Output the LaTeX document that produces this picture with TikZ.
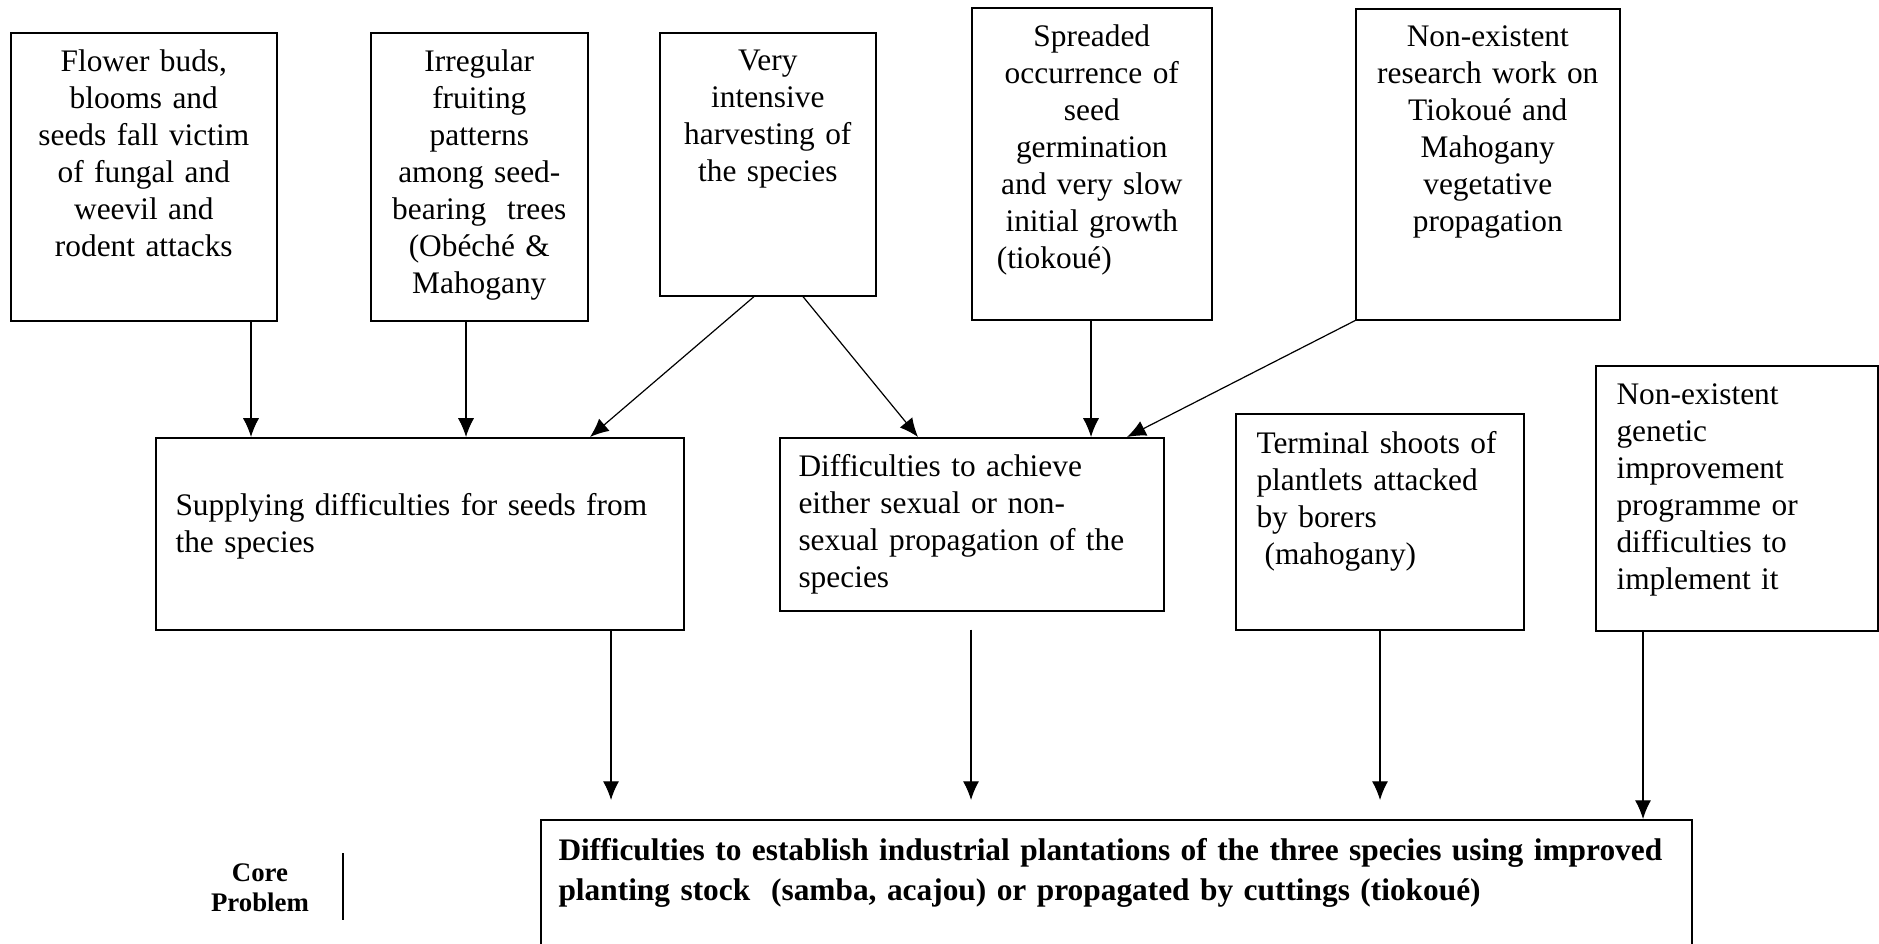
\documentclass[tikz,border=0pt]{standalone}
\usepackage{fontspec}
\setmainfont{Liberation Serif}
\usetikzlibrary{arrows.meta}
\newcommand{\pxu}{0.373pt}
\tikzset{
  box/.style={draw, line width=0.6pt, anchor=north west, inner sep=0pt},
  txt/.style={font=\fontsize{11.7pt}{13.8pt}\selectfont, inner sep=0pt},
  ctxt/.style={txt, align=center, anchor=north},
  ltxt/.style={txt, align=left, anchor=north west},
  arr/.style={line width=0.45pt, -{Latex[length=7pt,width=6pt]}}
}
\begin{document}
\begin{tikzpicture}[x=\pxu, y=-\pxu]
  \useasboundingbox (0,0) rectangle (1879,943);
  % top row of causes
  \node[box, minimum width=266*\pxu, minimum height=288*\pxu] (flower) at (10,32) {};
  \node[box, minimum width=217*\pxu, minimum height=288*\pxu] (fruit) at (370,32) {};
  \node[box, minimum width=216*\pxu, minimum height=263*\pxu] (harvest) at (659,32) {};
  \node[box, minimum width=240*\pxu, minimum height=312*\pxu] (germ) at (971,7) {};
  \node[box, minimum width=264*\pxu, minimum height=311*\pxu] (research) at (1355,8) {};
  \node[ctxt, text width=246*\pxu] (flowertxt) at ([yshift=-17*\pxu]flower.north)
    {Flower buds,\\ blooms and\\ seeds fall victim\\ of fungal and\\ weevil and\\ rodent attacks};
  \node[ctxt, text width=200*\pxu] (fruittxt) at ([yshift=-17*\pxu]fruit.north)
    {Irregular\\ fruiting\\ patterns\\ among seed-\\ bearing~ trees\\ (Obéché \&\\ Mahogany};
  \node[ctxt, text width=200*\pxu] (harvesttxt) at ([yshift=-17*\pxu]harvest.north)
    {Very\\ intensive\\ harvesting of\\ the species};
  \node[ctxt, text width=190*\pxu] (germtxt) at ([yshift=-17*\pxu]germ.north)
    {Spreaded\\ occurrence of\\ seed\\ germination\\ and very slow\\ initial growth\\ \makebox[\linewidth][l]{(tiokoué)}};
  \node[ctxt, text width=244*\pxu] (researchtxt) at ([yshift=-17*\pxu]research.north)
    {Non-existent\\ research work on\\ Tiokoué and\\ Mahogany\\ vegetative\\ propagation};
  % middle row
  \node[box, minimum width=528*\pxu, minimum height=192*\pxu] (supply) at (155,437) {};
  \node[box, minimum width=384*\pxu, minimum height=173*\pxu] (propag) at (779,437) {};
  \node[box, minimum width=288*\pxu, minimum height=216*\pxu] (borer) at (1235,413) {};
  \node[box, minimum width=282*\pxu, minimum height=265*\pxu] (genetic) at (1595,365) {};
  \node[ltxt, text width=520*\pxu] (supplytxt) at ([xshift=20*\pxu,yshift=-56*\pxu]supply.north west)
    {Supplying difficulties for seeds from\\ the species};
  \node[ltxt, text width=380*\pxu] (propagtxt) at ([xshift=19*\pxu,yshift=-17*\pxu]propag.north west)
    {Difficulties to achieve\\ either sexual or non-\\ sexual propagation of the\\ species};
  \node[ltxt, text width=280*\pxu] (borertxt) at ([xshift=21*\pxu,yshift=-18*\pxu]borer.north west)
    {Terminal shoots of\\ plantlets attacked\\ by borers\\ \hspace*{3pt}(mahogany)};
  \node[ltxt, text width=260*\pxu] (genetictxt) at ([xshift=21*\pxu,yshift=-18*\pxu]genetic.north west)
    {Non-existent\\ genetic\\ improvement\\ programme or\\ difficulties to\\ implement it};
  % core problem
  \node[box, minimum width=1151*\pxu, minimum height=126*\pxu] (core) at (540,819) {};
  \node[ltxt, text width=1140*\pxu, font=\fontsize{11.7pt}{15pt}\selectfont\bfseries] (coretxt)
    at ([xshift=18*\pxu,yshift=-19*\pxu]core.north west)
    {Difficulties to establish industrial plantations of the three species using improved\\
     planting stock~ (samba, acajou) or propagated by cuttings (tiokoué)};
  \node[font=\fontsize{10pt}{11.2pt}\selectfont\bfseries, align=center] (corelbl) at (260,888) {Core\\ Problem};
  \draw[line width=0.45pt] (343,853) -- (343,920);
  % arrows
  \draw[arr] (flower.south -| 251,0) -- (supply.north -| 251,0);
  \draw[arr] (fruit.south -| 466,0) -- (supply.north -| 466,0);
  \draw[arr] (harvest.south -| 754,0) -- (supply.north -| 590,0);
  \draw[arr] (harvest.south -| 803,0) -- (propag.north -| 918,0);
  \draw[arr] (germ.south -| 1091,0) -- (propag.north -| 1091,0);
  \draw[arr] (research.south west) -- (propag.north -| 1127,0);
  \draw[arr, shorten >=19*\pxu] (supply.south -| 611,0) -- (core.north -| 611,0);
  \draw[arr, shorten <=18*\pxu, shorten >=19*\pxu] (propag.south -| 971,0) -- (core.north -| 971,0);
  \draw[arr, shorten >=19*\pxu] (borer.south -| 1380,0) -- (core.north -| 1380,0);
  \draw[arr] (genetic.south -| 1643,0) -- (core.north -| 1643,0);
\end{tikzpicture}
\end{document}
